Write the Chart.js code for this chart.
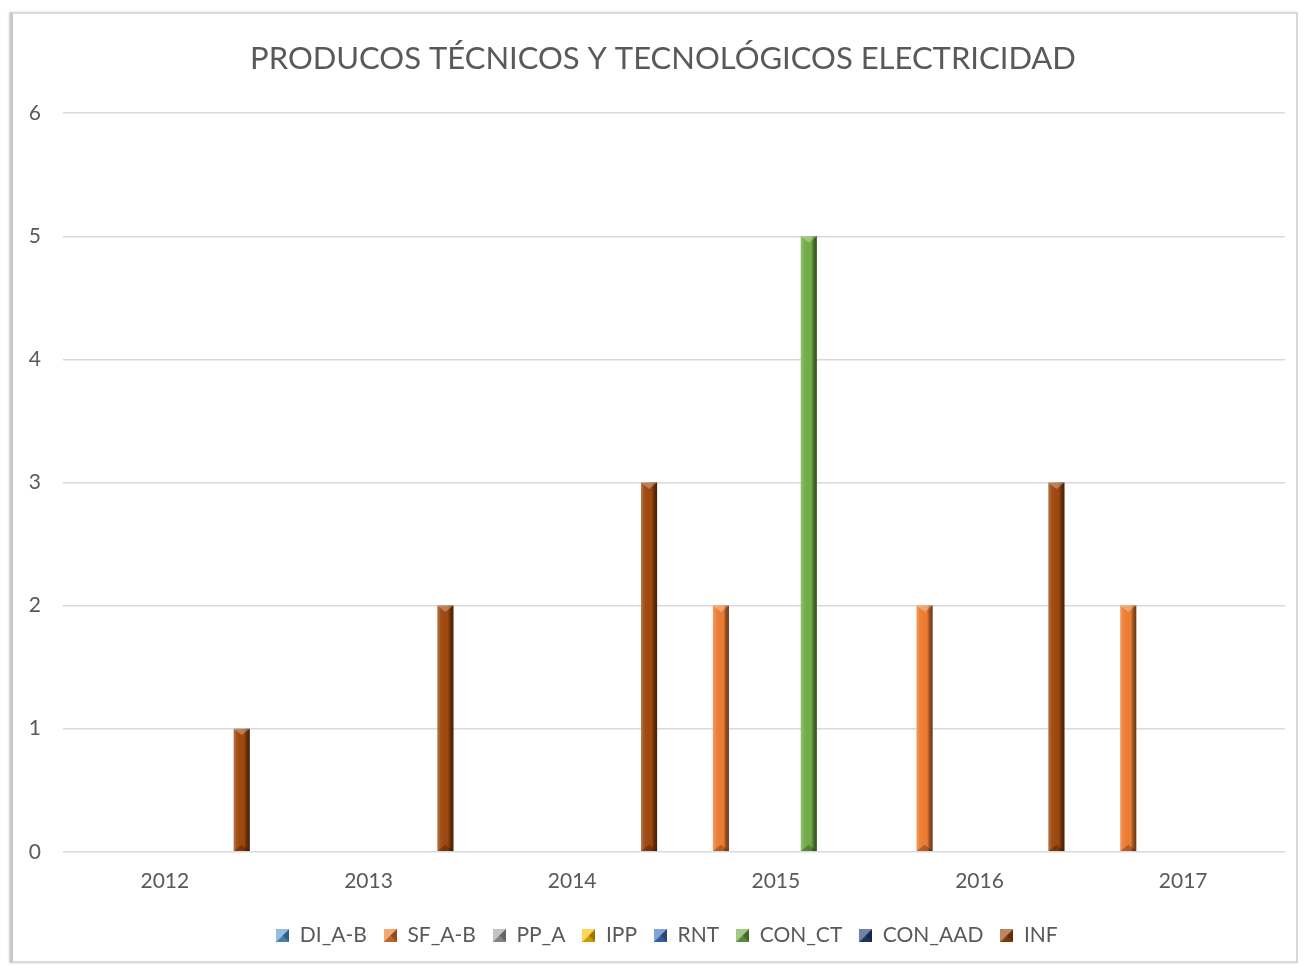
<!DOCTYPE html>
<html>
<head>
<meta charset="utf-8">
<script src="https://cdn.jsdelivr.net/npm/chart.js@4/dist/chart.umd.min.js"></script>
<style>
  body { margin: 0; background: #fff; }
  #frame {
    position: absolute; left: 10px; top: 12px; width: 1288px; height: 951px;
    box-sizing: border-box; border: 2px solid #d9d9d9; border-left: 3px solid #c8c8c8;
    box-shadow: -1px 0 2px #cfcfcf; background: #fff;
  }
  #wrap { position: absolute; left: 0; top: 0; right: 0; bottom: 0; }
</style>
</head>
<body>
<div id="frame"><div id="wrap"><canvas id="chart"></canvas></div></div>
<script>
const categories = ['2012', '2013', '2014', '2015', '2016', '2017'];
const seriesNames = ['DI_A-B', 'SF_A-B', 'PP_A', 'IPP', 'RNT', 'CON_CT', 'CON_AAD', 'INF'];
const diAB = [0, 0, 0, 0, 0, 0];
const sfAB = [0, 0, 0, 2, 2, 2];
const ppA = [0, 0, 0, 0, 0, 0];
const ipp = [0, 0, 0, 0, 0, 0];
const rnt = [0, 0, 0, 0, 0, 0];
const conCT = [0, 0, 0, 5, 0, 0];
const conAAD = [0, 0, 0, 0, 0, 0];
const inf = [1, 2, 3, 0, 3, 0];
const yTicks = [0, 1, 2, 3, 4, 5, 6];

const seriesValues = [diAB, sfAB, ppA, ipp, rnt, conCT, conAAD, inf];
const seriesColors = ['#5B9BD5', '#ED7D31', '#A5A5A5', '#FFC000', '#4472C4', '#70AD47', '#264478', '#9E480E'];

// small bevelled square for the legend markers
function legendMarker(color) {
  const c = document.createElement('canvas');
  c.width = 13;
  c.height = 13;
  const x = c.getContext('2d');
  x.fillStyle = color;
  x.fillRect(0, 0, 13, 13);
  x.fillStyle = 'rgba(255,255,255,0.35)';
  x.beginPath(); x.moveTo(0, 0); x.lineTo(13, 0); x.lineTo(6.5, 6.5); x.closePath(); x.fill();
  x.beginPath(); x.moveTo(0, 0); x.lineTo(0, 13); x.lineTo(6.5, 6.5); x.closePath(); x.fill();
  x.fillStyle = 'rgba(0,0,0,0.4)';
  x.beginPath(); x.moveTo(13, 0); x.lineTo(13, 13); x.lineTo(6.5, 6.5); x.closePath(); x.fill();
  x.fillStyle = 'rgba(0,0,0,0.2)';
  x.beginPath(); x.moveTo(0, 13); x.lineTo(13, 13); x.lineTo(6.5, 6.5); x.closePath(); x.fill();
  return c;
}

// bevel look on each bar, using the geometry chart.js computed
const bevel = {
  id: 'bevel',
  afterDatasetsDraw(chart) {
    const ctx = chart.ctx;
    chart.data.datasets.forEach((ds, di) => {
      const meta = chart.getDatasetMeta(di);
      if (meta.hidden) return;
      meta.data.forEach((bar) => {
        const h = bar.base - bar.y;
        if (h < 1) return;
        const left = bar.x - bar.width / 2;
        const right = bar.x + bar.width / 2;
        const g = ctx.createLinearGradient(left, 0, right, 0);
        g.addColorStop(0, 'rgba(255,255,255,0.25)');
        g.addColorStop(0.2, 'rgba(255,255,255,0.05)');
        g.addColorStop(0.65, 'rgba(0,0,0,0)');
        g.addColorStop(0.8, 'rgba(0,0,0,0.35)');
        g.addColorStop(1, 'rgba(0,0,0,0.55)');
        ctx.save();
        ctx.fillStyle = g;
        ctx.fillRect(left, bar.y, bar.width, h);
        const t = bar.width / 2;
        ctx.fillStyle = 'rgba(255,255,255,0.3)';
        ctx.beginPath();
        ctx.moveTo(left, bar.y);
        ctx.lineTo(right, bar.y);
        ctx.lineTo(bar.x, bar.y + t * 0.8);
        ctx.closePath();
        ctx.fill();
        ctx.fillStyle = 'rgba(0,0,0,0.25)';
        ctx.beginPath();
        ctx.moveTo(left, bar.base);
        ctx.lineTo(right, bar.base);
        ctx.lineTo(bar.x, bar.base - t * 0.8);
        ctx.closePath();
        ctx.fill();
        ctx.restore();
      });
    });
  },
};

// title and legend sit a little right of the frame centre in the original
const nudge = {
  id: 'nudge',
  afterLayout(chart) {
    chart.titleBlock.left += 6;
    chart.titleBlock.right += 6;
    chart.legend.left += 10;
    chart.legend.right += 10;
  },
};

new Chart(document.getElementById('chart'), {
  type: 'bar',
  data: {
    labels: categories,
    datasets: seriesNames.map((name, i) => ({
      label: name,
      data: seriesValues[i],
      backgroundColor: seriesColors[i],
      pointStyle: legendMarker(seriesColors[i]),
      borderWidth: 0,
      categoryPercentage: 0.863,
      barPercentage: 0.73,
    })),
  },
  plugins: [bevel, nudge],
  options: {
    responsive: true,
    maintainAspectRatio: false,
    animation: false,
    layout: { padding: { left: 16, right: 11, top: 0, bottom: 5 } },
    plugins: {
      title: {
        display: true,
        text: 'PRODUCOS TÉCNICOS Y TECNOLÓGICOS ELECTRICIDAD',
        color: '#595959',
        font: { family: 'Lato', size: 31, weight: 'normal' },
        padding: { top: 26, bottom: 36 },
      },
      legend: {
        position: 'bottom',
        labels: {
          color: '#595959',
          font: { family: 'Lato', size: 21 },
          usePointStyle: true,
          pointStyleWidth: 13,
          boxHeight: 13,
          padding: 17,
        },
      },
      tooltip: { enabled: false },
    },
    scales: {
      x: {
        afterFit: (axis) => { axis.height += 5; },
        grid: { display: false },
        border: { display: false },
        ticks: { color: '#595959', font: { family: 'Lato', size: 21 }, padding: 9 },
      },
      y: {
        min: 0,
        max: 6,
        afterBuildTicks: (axis) => { axis.ticks = yTicks.map((v) => ({ value: v })); },
        afterFit: (axis) => { axis.width = 34; },
        grid: { color: '#d9d9d9', lineWidth: 1.5, drawTicks: false },
        border: { display: false },
        ticks: { color: '#595959', font: { family: 'Lato', size: 21 }, padding: 22 },
      },
    },
  },
});
</script>
</body>
</html>
